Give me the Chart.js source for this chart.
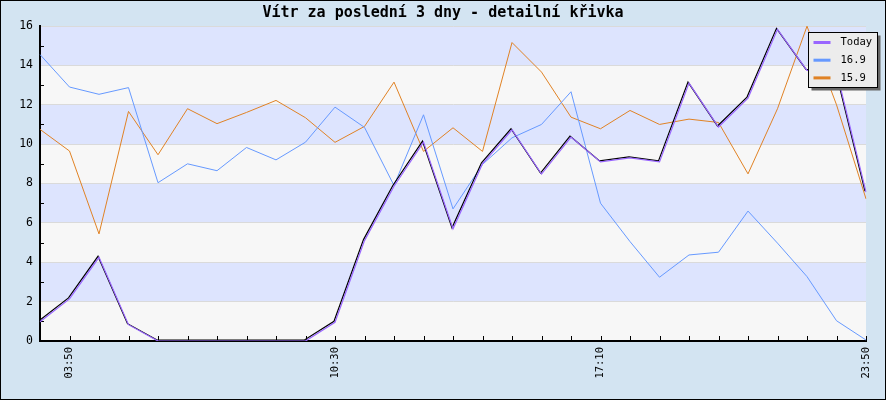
<!DOCTYPE html>
<html>
<head>
<meta charset="utf-8">
<script src="https://cdn.jsdelivr.net/npm/chart.js@4/dist/chart.umd.min.js"></script>
<style>
    body { margin: 0; background: #d3e4f2; }
    canvas { display: block; }
</style>
</head>
<body>
<canvas id="windChart" width="886" height="400"></canvas>
<script>
const chartTitle = 'Vítr za poslední 3 dny - detailní křivka';
const xLabels = ['', '03:50', '', '', '', '', '', '', '', '', '10:30', '', '', '', '', '', '', '', '', '17:10', '', '', '', '', '', '', '', '', '23:50'];
const today = [0.98, 2.14, 4.25, 0.83, 0, 0, 0, 0, 0, 0, 0.95, 5.1, 7.86, 10.1, 5.7, 9.0, 10.73, 8.48, 10.36, 9.1, 9.3, 9.1, 13.1, 10.87, 12.34, 15.83, 13.75, 13.7, 7.56];
const day169 = [14.55, 12.9, 12.53, 12.87, 8.04, 9.0, 8.65, 9.83, 9.2, 10.1, 11.88, 10.85, 7.9, 11.49, 6.71, 8.97, 10.32, 11.0, 12.66, 7.0, 5.05, 3.24, 4.37, 4.51, 6.6, 4.97, 3.27, 1.03, 0.05];
const day159 = [10.75, 9.65, 5.44, 11.66, 9.46, 11.8, 11.04, 11.61, 12.22, 11.34, 10.09, 10.9, 13.15, 9.63, 10.83, 9.63, 15.16, 13.66, 11.37, 10.78, 11.71, 11.0, 11.27, 11.1, 8.49, 11.8, 15.99, 12.0, 7.22];
const seriesNames = ['Today', '16.9', '15.9'];
const yTicks = [0, 2, 4, 6, 8, 10, 12, 14, 16];

const MONO = "'DejaVu Sans Mono', monospace";

// background, stripes, title, inward ticks, legend and frame
const decorPlugin = {
    id: 'decor',
    beforeDraw(chart) {
        const { ctx, chartArea: a, scales } = chart;
        ctx.save();
        ctx.fillStyle = '#d3e4f2';
        ctx.fillRect(0, 0, chart.width, chart.height);
        for (let i = 0; i < yTicks.length - 1; i++) {
            const yTop = scales.y.getPixelForValue(yTicks[i + 1]);
            const yBot = scales.y.getPixelForValue(yTicks[i]);
            ctx.fillStyle = i % 2 === 0 ? '#f7f7f7' : '#dde4fe';
            ctx.fillRect(a.left, yTop, a.right - a.left, yBot - yTop);
        }
        ctx.fillStyle = '#000';
        ctx.font = 'bold 15px ' + MONO;
        ctx.textAlign = 'center';
        ctx.textBaseline = 'middle';
        ctx.fillText(chartTitle, chart.width / 2, 13.5);
        ctx.restore();
    },
    beforeDatasetsDraw(chart) {
        const { ctx, chartArea: a, scales } = chart;
        ctx.save();
        ctx.strokeStyle = '#000';
        ctx.lineWidth = 1;
        ctx.beginPath();
        for (let v = 1; v < 16; v += 2) {
            const y = Math.round(scales.y.getPixelForValue(v)) + 0.5;
            ctx.moveTo(a.left, y);
            ctx.lineTo(a.left + 4, y);
        }
        for (let i = 0; i < xLabels.length; i++) {
            const x = Math.round(scales.x.getPixelForValue(i)) + 0.5;
            ctx.moveTo(x, a.bottom);
            ctx.lineTo(x, a.bottom - 5);
        }
        ctx.stroke();
        ctx.restore();
    },
    beforeDatasetDraw(chart, args) {
        if (args.index === 0) {
            chart.ctx.save();
            chart.ctx.shadowColor = '#000';
            chart.ctx.shadowOffsetX = -1;
            chart.ctx.shadowOffsetY = -1;
            chart.ctx.shadowBlur = 0;
        }
    },
    afterDatasetDraw(chart, args) {
        if (args.index === 0) {
            chart.ctx.restore();
        }
    },
    afterDraw(chart) {
        const { ctx } = chart;
        ctx.save();
        ctx.shadowColor = 'transparent';
        // legend box
        const lx = 808.5, ly = 32.5, lw = 69, lh = 55;
        ctx.fillStyle = '#666';
        ctx.fillRect(lx + 3, ly + 3, lw, lh);
        ctx.fillStyle = '#ececec';
        ctx.fillRect(lx, ly, lw, lh);
        ctx.strokeStyle = '#000';
        ctx.lineWidth = 1;
        ctx.strokeRect(lx, ly, lw, lh);
        ctx.font = '10.5px ' + MONO;
        ctx.textBaseline = 'middle';
        chart.data.datasets.forEach((ds, i) => {
            const y = ly + 10 + i * 17.7;
            ctx.strokeStyle = ds.borderColor;
            ctx.lineWidth = 3;
            ctx.beginPath();
            ctx.moveTo(lx + 5, y);
            ctx.lineTo(lx + 22, y);
            ctx.stroke();
            ctx.fillStyle = '#000';
            ctx.fillText(ds.label, lx + 32, y);
        });
        // outer frame
        ctx.strokeStyle = '#000';
        ctx.lineWidth = 1;
        ctx.strokeRect(0.5, 0.5, chart.width - 1, chart.height - 1);
        ctx.restore();
    }
};

const ctx = document.getElementById('windChart').getContext('2d');

new Chart(ctx, {
    type: 'line',
    data: {
        labels: xLabels,
        datasets: [
            { label: seriesNames[0], data: today, borderColor: '#9966ff', borderWidth: 1.2 },
            { label: seriesNames[1], data: day169, borderColor: '#6699ff', borderWidth: 1 },
            { label: seriesNames[2], data: day159, borderColor: '#e08224', borderWidth: 1 }
        ]
    },
    options: {
        responsive: false,
        animation: false,
        devicePixelRatio: 1,
        layout: { padding: { left: 0, right: 20, top: 26, bottom: 0 } },
        elements: {
            point: { radius: 0, hoverRadius: 0 },
            line: { tension: 0, fill: false }
        },
        scales: {
            x: {
                offset: false,
                grid: { display: true, drawOnChartArea: false, drawTicks: false },
                border: { color: '#000', width: 2 },
                ticks: {
                    autoSkip: false,
                    maxRotation: 90,
                    minRotation: 90,
                    padding: 6,
                    color: '#000',
                    font: { family: MONO, size: 10.5 }
                },
                afterFit(scale) { scale.height = 59; }
            },
            y: {
                min: 0,
                max: 16,
                ticks: {
                    stepSize: 2,
                    padding: 7,
                    color: '#000',
                    font: { family: MONO, size: 11.5 }
                },
                grid: { color: '#dadada', lineWidth: 1, drawTicks: false },
                border: { color: '#000', width: 2 },
                afterFit(scale) { scale.width = 40; }
            }
        },
        plugins: {
            legend: { display: false },
            tooltip: { enabled: false },
            title: { display: false }
        }
    },
    plugins: [decorPlugin]
});
</script>
</body>
</html>
